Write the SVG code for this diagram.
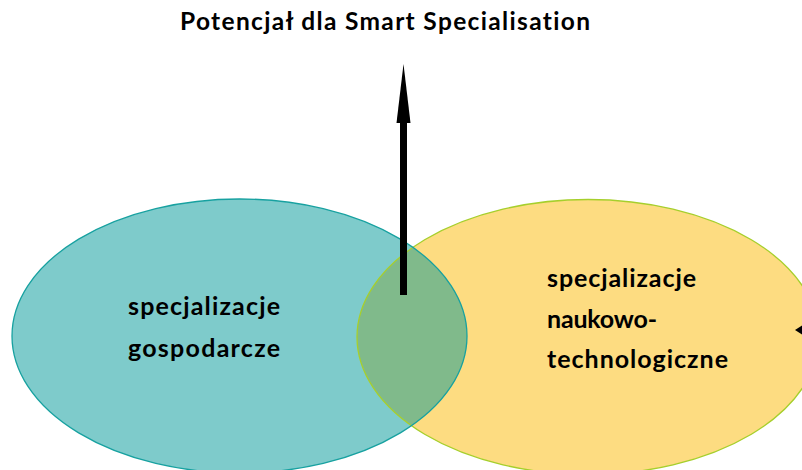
<svg xmlns="http://www.w3.org/2000/svg" width="802" height="470" viewBox="0 0 802 470">
<style>
.t{font-family:Lato,"Open Sans","Liberation Sans",sans-serif;font-weight:bold;fill:#000;font-variant-ligatures:none}
.lbl{font-size:25px}
.title{font-size:24.5px}
</style>
<defs>
<clipPath id="clipL"><ellipse cx="239.5" cy="336" rx="227.5" ry="137"/></clipPath>
</defs>
<rect width="802" height="470" fill="#fff"/>
<g id="node-gospodarcze">
<ellipse cx="239.5" cy="336" rx="227.5" ry="137" fill="#7ECBCB"/>
</g>
<g id="node-naukowo">
<ellipse cx="588" cy="337" rx="231" ry="137.5" fill="#FDDC81"/>
</g>
<g id="overlap">
<ellipse cx="588" cy="337" rx="231" ry="137.5" fill="#80BA8B" clip-path="url(#clipL)"/>
</g>
<g id="outlines" fill="none" stroke-width="1.3">
<ellipse cx="588" cy="337" rx="231" ry="137.5" stroke="#A6CF2C"/>
<ellipse cx="239.5" cy="336" rx="227.5" ry="137" stroke="#17A1A0"/>
</g>
<g id="labels">
<text class="t lbl" x="204" y="315" text-anchor="middle" textLength="152">specjalizacje</text>
<text class="t lbl" x="204" y="357" text-anchor="middle" textLength="152">gospodarcze</text>
<text class="t lbl" x="547" y="287" textLength="149">specjalizacje</text>
<text class="t lbl" x="547" y="328" textLength="110">naukowo-</text>
<text class="t lbl" x="547" y="368" textLength="181">technologiczne</text>
</g>
<g id="title">
<text class="t title" x="180" y="30" textLength="410">Potencjał dla Smart Specialisation</text>
</g>
<g id="connectors" fill="#000">
<rect x="400" y="120" width="7" height="175"/>
<polygon points="403.5,64 410.5,123 396.5,123"/>
<polygon points="795,330 802,325.5 802,334.5"/>
</g>
</svg>
